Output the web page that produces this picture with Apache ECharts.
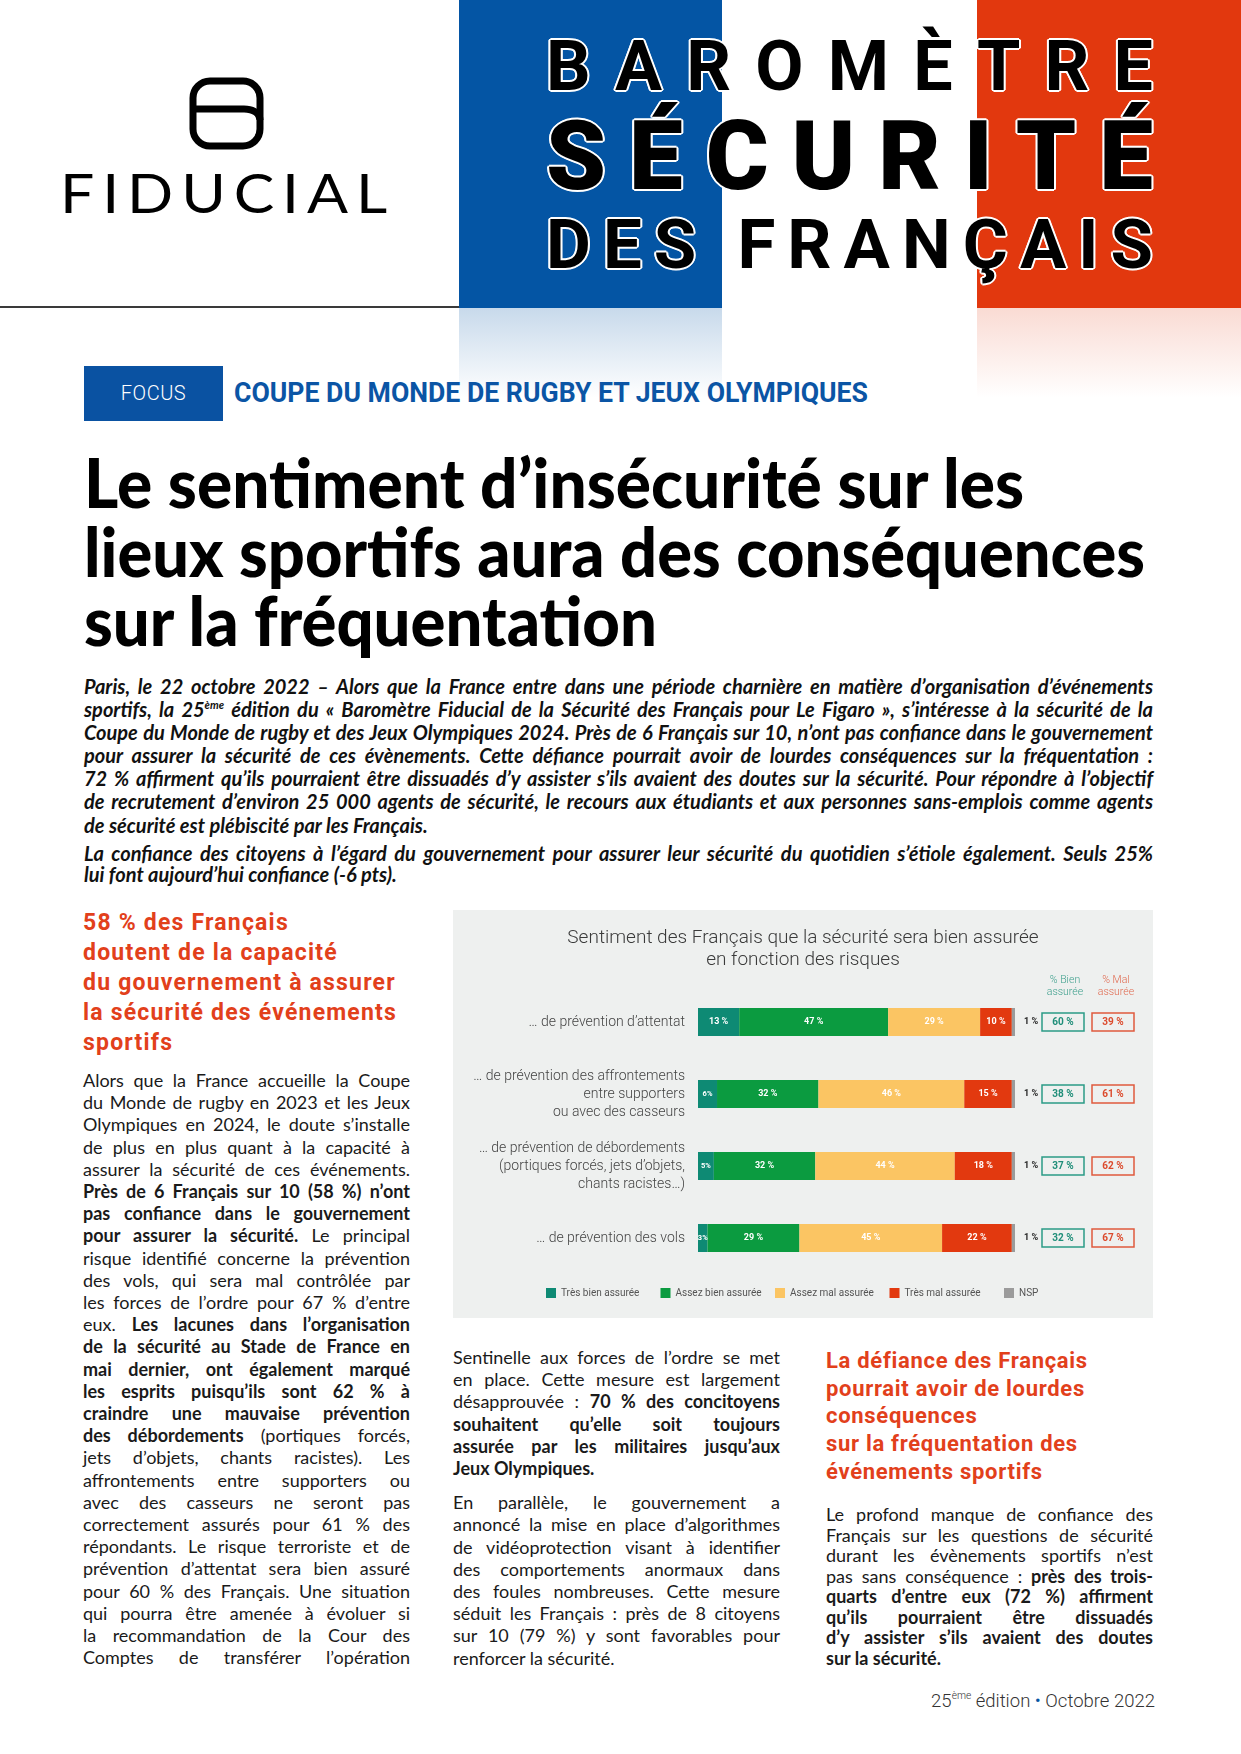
<!DOCTYPE html>
<html lang="fr">
<head>
<meta charset="utf-8">
<script src="https://cdn.jsdelivr.net/npm/echarts@6/dist/echarts.min.js"></script>
<style>
  html,body{margin:0;padding:0;background:#fff;}
  #page{position:relative;width:1241px;height:1754px;overflow:hidden;background:#fff;color:#1a1a1a;}
  .abs{position:absolute;}
  .ln{white-space:nowrap;}
  .j{text-align:justify;text-align-last:justify;}
  .fit{display:inline-block;white-space:nowrap;transform-origin:0 50%;}
  .hdr{position:absolute;left:546px;width:607px;display:flex;justify-content:space-between;font-family:Roboto,sans-serif;color:#000;
       text-shadow:2px 0 #fff,-2px 0 #fff,0 2px #fff,0 -2px #fff,1.4px 1.4px #fff,-1.4px -1.4px #fff,1.4px -1.4px #fff,-1.4px 1.4px #fff;}
  .body{font-family:Lato,sans-serif;font-size:18px;}
  .bold{font-weight:700;}
  sup{font-size:0.55em;line-height:0;vertical-align:0.75em;}
</style>
</head>
<body>
<div id="page">
  <!-- header -->
  <div class="abs" style="left:459px;top:0;width:263px;height:308px;background:#0455a4"></div>
  <div class="abs" style="left:977px;top:0;width:264px;height:308px;background:#e2380e"></div>
  <div class="abs" style="left:459px;top:308px;width:263px;height:90px;background:linear-gradient(rgba(4,85,164,0.22),rgba(4,85,164,0))"></div>
  <div class="abs" style="left:977px;top:308px;width:264px;height:90px;background:linear-gradient(rgba(226,56,14,0.18),rgba(226,56,14,0))"></div>
  <div class="abs" style="left:0;top:306px;width:459px;height:2px;background:#3a3a3a"></div>

  <svg class="abs" style="left:188px;top:76px" width="78" height="76" viewBox="0 0 78 76">
    <rect x="5" y="5" width="67" height="65" rx="17" ry="17" fill="none" stroke="#000" stroke-width="7"/>
    <path d="M5 33 C 20 33, 40 33, 56 33 C 66 33, 72 38, 72 44" fill="none" stroke="#000" stroke-width="7"/>
  </svg>
  <div class="abs" style="left:60px;top:166px;font-family:Lato,sans-serif;font-weight:400;font-size:54px;line-height:54px;color:#000;">
    <span class="fit" data-w="335" style="letter-spacing:7px">FIDUCIAL</span>
  </div>

  <div class="hdr" style="top:31px;font-size:70px;line-height:70px;font-weight:700;">
    <span>B</span><span>A</span><span>R</span><span>O</span><span>M</span><span>È</span><span>T</span><span>R</span><span>E</span>
  </div>
  <div class="hdr" style="top:108px;font-size:96px;line-height:96px;font-weight:900;">
    <span>S</span><span>É</span><span>C</span><span>U</span><span>R</span><span>I</span><span>T</span><span>É</span>
  </div>
  <div class="hdr" style="top:210px;font-size:69px;line-height:69px;font-weight:700;">
    <span>D</span><span>E</span><span>S</span><span>&nbsp;</span><span>F</span><span>R</span><span>A</span><span>N</span><span>Ç</span><span>A</span><span>I</span><span>S</span>
  </div>

  <!-- focus -->
  <div class="abs" style="left:84px;top:366px;width:139px;height:55px;background:#0a52a2;color:#fff;font-family:Roboto,sans-serif;font-weight:300;font-size:20px;line-height:55px;text-align:center;letter-spacing:0.5px">FOCUS</div>
  <div class="abs" style="left:234px;top:377px;font-family:Roboto,sans-serif;font-weight:700;font-size:27px;line-height:32px;color:#0b55a5;">
    <span class="fit" data-w="634">COUPE DU MONDE DE RUGBY ET JEUX OLYMPIQUES</span>
  </div>

  <!-- headline -->
  <div class="abs" style="left:84px;top:447px;font-family:Lato,sans-serif;font-weight:900;font-size:69px;line-height:69px;color:#000;">
    <div><span class="fit" data-w="940">Le sentiment d’insécurité sur les</span></div>
    <div><span class="fit" data-w="1061">lieux sportifs aura des conséquences</span></div>
    <div><span class="fit" data-w="573">sur la fréquentation</span></div>
  </div>

  <!-- intro -->
  <div class="abs" style="left:84px;top:675px;width:1069px;font-family:Lato,sans-serif;font-weight:700;font-style:italic;font-size:20px;line-height:23.1px;color:#111;">
    <div class="ln j">Paris, le 22 octobre 2022 – Alors que la France entre dans une période charnière en matière d’organisation d’événements</div>
    <div class="ln j">sportifs, la 25<sup>ème</sup> édition du « Baromètre Fiducial de la Sécurité des Français pour Le Figaro », s’intéresse à la sécurité de la</div>
    <div class="ln j">Coupe du Monde de rugby et des Jeux Olympiques 2024. Près de 6 Français sur 10, n’ont pas confiance dans le gouvernement</div>
    <div class="ln j">pour assurer la sécurité de ces évènements. Cette défiance pourrait avoir de lourdes conséquences sur la fréquentation :</div>
    <div class="ln j">72 % affirment qu’ils pourraient être dissuadés d’y assister s’ils avaient des doutes sur la sécurité. Pour répondre à l’objectif</div>
    <div class="ln j">de recrutement d’environ 25 000 agents de sécurité, le recours aux étudiants et aux personnes sans-emplois comme agents</div>
    <div class="ln">de sécurité est plébiscité par les Français.</div>
    <div style="height:6px"></div>
    <div class="ln j" style="line-height:21px">La confiance des citoyens à l’égard du gouvernement pour assurer leur sécurité du quotidien s’étiole également. Seuls 25%</div>
    <div class="ln" style="line-height:21px">lui font aujourd’hui confiance (-6 pts).</div>
  </div>

  <!-- left column -->
  <div class="abs" style="left:83px;top:908px;width:360px;font-family:Roboto,sans-serif;font-weight:700;font-size:23px;line-height:30px;letter-spacing:1.2px;color:#e2401b;">
    <div>58 % des Français</div>
    <div>doutent de la capacité</div>
    <div>du gouvernement à assurer</div>
    <div>la sécurité des événements</div>
    <div>sportifs</div>
  </div>
  <div class="abs body" style="left:83px;top:1069px;width:327px;line-height:22.2px;">
    <div class="ln j">Alors que la France accueille la Coupe</div>
    <div class="ln j">du Monde de rugby en 2023 et les Jeux</div>
    <div class="ln j">Olympiques en 2024, le doute s’installe</div>
    <div class="ln j">de plus en plus quant à la capacité à</div>
    <div class="ln j">assurer la sécurité de ces événements.</div>
    <div class="ln j bold">Près de 6 Français sur 10 (58 %) n’ont</div>
    <div class="ln j bold">pas confiance dans le gouvernement</div>
    <div class="ln j"><b>pour assurer la sécurité.</b> Le principal</div>
    <div class="ln j">risque identifié concerne la prévention</div>
    <div class="ln j">des vols, qui sera mal contrôlée par</div>
    <div class="ln j">les forces de l’ordre pour 67 % d’entre</div>
    <div class="ln j">eux. <b>Les lacunes dans l’organisation</b></div>
    <div class="ln j bold">de la sécurité au Stade de France en</div>
    <div class="ln j bold">mai dernier, ont également marqué</div>
    <div class="ln j bold">les esprits puisqu’ils sont 62 % à</div>
    <div class="ln j bold">craindre une mauvaise prévention</div>
    <div class="ln j"><b>des débordements</b> (portiques forcés,</div>
    <div class="ln j">jets d’objets, chants racistes). Les</div>
    <div class="ln j">affrontements entre supporters ou</div>
    <div class="ln j">avec des casseurs ne seront pas</div>
    <div class="ln j">correctement assurés pour 61 % des</div>
    <div class="ln j">répondants. Le risque terroriste et de</div>
    <div class="ln j">prévention d’attentat sera bien assuré</div>
    <div class="ln j">pour 60 % des Français. Une situation</div>
    <div class="ln j">qui pourra être amenée à évoluer si</div>
    <div class="ln j">la recommandation de la Cour des</div>
    <div class="ln j">Comptes de transférer l’opération</div>
  </div>

  <!-- chart -->
  <div id="chart" class="abs" style="left:453px;top:910px;width:700px;height:408px;"></div>

  <!-- middle column -->
  <div class="abs body" style="left:453px;top:1346px;width:327px;line-height:22.2px;">
    <div class="ln j">Sentinelle aux forces de l’ordre se met</div>
    <div class="ln j">en place. Cette mesure est largement</div>
    <div class="ln j">désapprouvée : <b>70 % des concitoyens</b></div>
    <div class="ln j bold">souhaitent qu’elle soit toujours</div>
    <div class="ln j bold">assurée par les militaires jusqu’aux</div>
    <div class="ln bold">Jeux Olympiques.</div>
    <div style="height:12px"></div>
    <div class="ln j">En parallèle, le gouvernement a</div>
    <div class="ln j">annoncé la mise en place d’algorithmes</div>
    <div class="ln j">de vidéoprotection visant à identifier</div>
    <div class="ln j">des comportements anormaux dans</div>
    <div class="ln j">des foules nombreuses. Cette mesure</div>
    <div class="ln j">séduit les Français : près de 8 citoyens</div>
    <div class="ln j">sur 10 (79 %) y sont favorables pour</div>
    <div class="ln">renforcer la sécurité.</div>
  </div>

  <!-- right column -->
  <div class="abs" style="left:826px;top:1347px;width:360px;font-family:Roboto,sans-serif;font-weight:700;font-size:22px;line-height:27.7px;letter-spacing:0.7px;color:#e2401b;">
    <div>La défiance des Français</div>
    <div>pourrait avoir de lourdes</div>
    <div>conséquences</div>
    <div>sur la fréquentation des</div>
    <div>événements sportifs</div>
  </div>
  <div class="abs body" style="left:826px;top:1504px;width:327px;line-height:20.5px;">
    <div class="ln j">Le profond manque de confiance des</div>
    <div class="ln j">Français sur les questions de sécurité</div>
    <div class="ln j">durant les évènements sportifs n’est</div>
    <div class="ln j">pas sans conséquence : <b>près des trois-</b></div>
    <div class="ln j bold">quarts d’entre eux (72 %) affirment</div>
    <div class="ln j bold">qu’ils pourraient être dissuadés</div>
    <div class="ln j bold">d’y assister s’ils avaient des doutes</div>
    <div class="ln bold">sur la sécurité.</div>
  </div>

  <!-- footer -->
  <div class="abs" style="right:86px;top:1689px;font-family:Roboto,sans-serif;font-weight:300;font-size:18.5px;line-height:24px;color:#333;white-space:nowrap;">
    25<sup>ème</sup> édition <span style="color:#0455a4">•</span> Octobre 2022
  </div>
</div>

<script>
// ---------------- DATA ----------------
const categories = [
  '… de prévention d’attentat',
  '… de prévention des affrontements\nentre supporters\nou avec des casseurs',
  '… de prévention de débordements\n(portiques forcés, jets d’objets,\nchants racistes…)',
  '… de prévention des vols'
];
const seriesNames = ['Très bien assurée', 'Assez bien assurée', 'Assez mal assurée', 'Très mal assurée', 'NSP'];
const tresBien  = [13, 6, 5, 3];
const assezBien = [47, 32, 32, 29];
const assezMal  = [29, 46, 44, 45];
const tresMal   = [10, 15, 18, 22];
const nsp       = [1, 1, 1, 1];
const bienAssuree = [60, 38, 37, 32];
const malAssuree  = [39, 61, 62, 67];
const chartTitle = 'Sentiment des Français que la sécurité sera bien assurée\nen fonction des risques';
const headBien = '% Bien\nassurée';
const headMal = '% Mal\nassurée';

// ---------------- LAYOUT HELPERS ----------------
function fitText(){
  document.querySelectorAll('.fit').forEach(el=>{
    const W = +el.dataset.w;
    const nat = el.getBoundingClientRect().width;
    if (nat > 0) el.style.transform = 'scaleX(' + (W/nat) + ')';
  });
  document.querySelectorAll('.ln').forEach(el=>{
    const W = el.clientWidth;
    const saveA = el.style.textAlign, saveL = el.style.textAlignLast;
    el.style.textAlign = 'left'; el.style.textAlignLast = 'left';
    const r = document.createRange(); r.selectNodeContents(el);
    const nat = r.getBoundingClientRect().width;
    el.style.textAlign = saveA; el.style.textAlignLast = saveL;
    if (nat > W + 0.5) {
      el.style.width = (nat + 1) + 'px';
      el.style.transformOrigin = '0 0';
      el.style.transform = 'scaleX(' + (W/(nat+1)) + ')';
    } else {
      el.style.whiteSpace = 'normal';
    }
  });
}

function drawChart(){
  const chart = echarts.init(document.getElementById('chart'), null, {renderer:'canvas'});
  const colors = ['#0e8a74', '#0b9b40', '#fbc563', '#e2390f', '#9b9b9b'];
  const values = [tresBien, assezBien, assezMal, tresMal, nsp];
  const font = 'Roboto';
  const series = seriesNames.map((name, k) => {
    const s = {
      name, type:'bar', stack:'total', barWidth:28,
      itemStyle:{color: colors[k]},
      emphasis:{disabled:true}
    };
    if (k < 4) {
      s.data = values[k].map(v => ({value:v, label:{fontSize: v < 7 ? 7.5 : 9}}));
      s.label = {show:true, position:'inside', color:'#fff', fontFamily:font, fontWeight:'bold',
                 formatter: p => p.value < 7 ? p.value + '%' : p.value + ' %'};
    } else {
      s.data = values[k];
      s.label = {
        show:true, position:'right', distance:9,
        formatter: p => '{n|' + p.value + ' %}{g|' + bienAssuree[p.dataIndex] + ' %}{s| }{r|' + malAssuree[p.dataIndex] + ' %}',
        rich:{
          n:{width:18, fontSize:9, fontWeight:'bold', color:'#222', fontFamily:font},
          g:{width:38, height:15, align:'center', verticalAlign:'middle', padding:[2,2,1,2], borderColor:'#2b9b87', borderWidth:1.5,
             color:'#1f8e79', fontSize:10, fontWeight:'bold', fontFamily:font},
          s:{width:8, fontSize:9},
          r:{width:38, height:15, align:'center', verticalAlign:'middle', padding:[2,2,1,2], borderColor:'#e05a3e', borderWidth:1.5,
             color:'#dc4a2c', fontSize:10, fontWeight:'bold', fontFamily:font}
        }
      };
    }
    return s;
  });

  const legendStep = 114.5;
  const legends = seriesNames.map((name, i) => ({
    data:[name], left: 88 + i*legendStep, top:373, itemWidth:10, itemHeight:10, icon:'rect',
    selectedMode:false,
    textStyle:{fontSize:10, color:'#555', fontFamily:font}
  }));

  chart.setOption({
    animation:false,
    backgroundColor:'#eef0ef',
    textStyle:{fontFamily:font},
    grid:{left:245, right:138, top:76, bottom:44, containLabel:false},
    xAxis:{type:'value', min:0, max:100, show:false},
    yAxis:{type:'category', inverse:true, data:categories,
      axisLine:{show:false}, axisTick:{show:false}, splitLine:{show:false},
      axisLabel:{margin:13, fontSize:14, fontWeight:300, color:'#444', lineHeight:18, align:'right', fontFamily:font}},
    legend:legends,
    graphic:[
      {type:'text', x:350, y:17, style:{text:chartTitle, align:'center', verticalAlign:'top', fill:'#3a3a3a',
        font:'300 19px Roboto', lineHeight:22}},
      {type:'text', x:612, y:65, style:{text:headBien, align:'center', verticalAlign:'top', fill:'#3d9f8c', font:'300 10.5px Roboto', lineHeight:11.5}},
      {type:'text', x:663, y:65, style:{text:headMal, align:'center', verticalAlign:'top', fill:'#e06a50', font:'300 10.5px Roboto', lineHeight:11.5}}
    ],
    series
  });
}

function start(){ fitText(); drawChart(); }
if (document.fonts && document.fonts.ready) { document.fonts.ready.then(start); } else { window.onload = start; }
</script>
</body>
</html>
